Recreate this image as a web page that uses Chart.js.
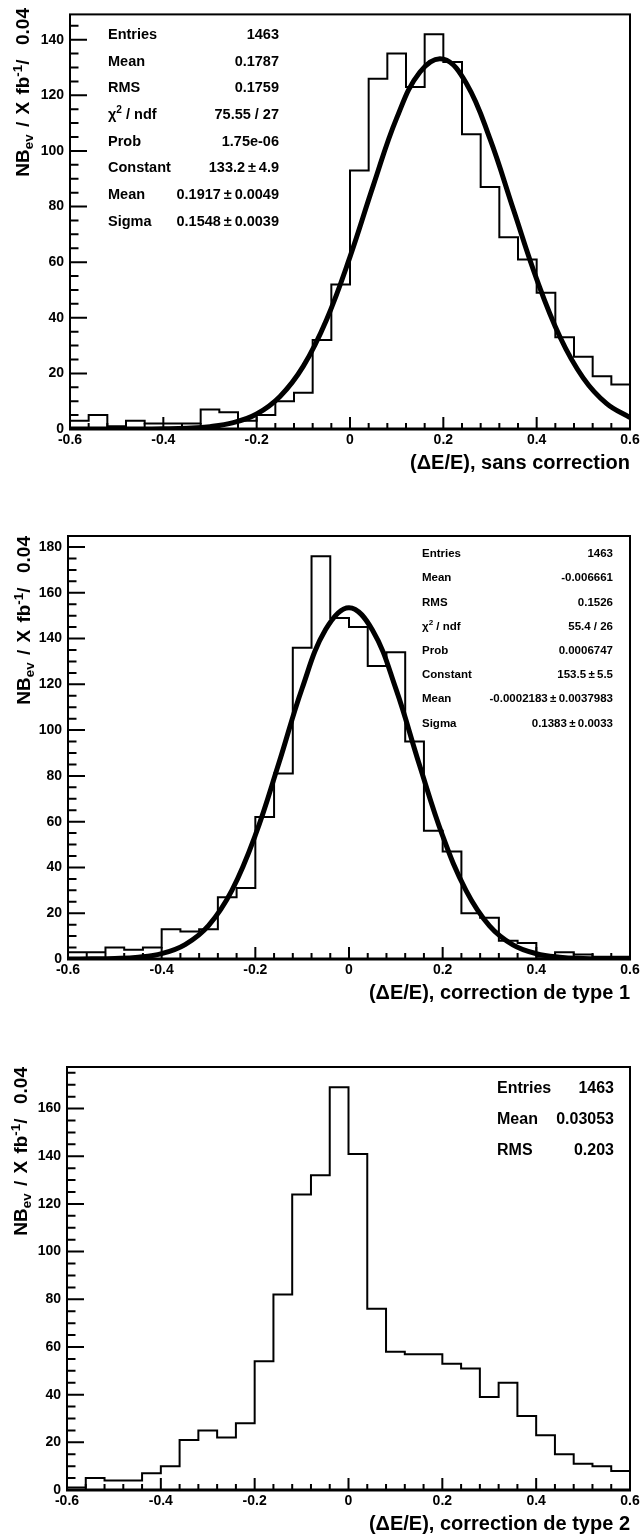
<!DOCTYPE html>
<html>
<head>
<meta charset="utf-8">
<script src="https://cdn.jsdelivr.net/npm/chart.js@4.4.0/dist/chart.umd.min.js"></script>
<style>
  html, body { margin: 0; padding: 0; background: #fff; }
  body { width: 640px; height: 1537px; overflow: hidden; position: relative;
         font-family: "Liberation Sans", Arial, Helvetica, sans-serif; font-weight: bold; color: #000; }
  canvas { position: absolute; left: 0; }
  .ytitle { position: absolute; white-space: nowrap; text-align: right; font-size: 19px; line-height: 19px;
            transform-origin: 0 0; transform: rotate(-90deg); word-spacing: 2px; }
  .ytitle sub, .ytitle sup, .stats sup { font-size: 0.7em; line-height: 0; position: relative; vertical-align: baseline; }
  .ytitle sup, .stats sup { top: -0.55em; }
  .ytitle sub { top: 0.3em; }
  .stats { position: absolute; }
  .stats .row { display: flex; justify-content: space-between; white-space: nowrap; }
</style>
</head>
<body>
<canvas id="h1"></canvas>
<canvas id="h2"></canvas>
<canvas id="h3"></canvas>
<script>
// bords bas des bins (largeur 0.04)
var binLow = [-0.6, -0.56, -0.52, -0.48, -0.44, -0.4, -0.36, -0.32, -0.28, -0.24, -0.2, -0.16, -0.12, -0.08, -0.04,
              0, 0.04, 0.08, 0.12, 0.16, 0.2, 0.24, 0.28, 0.32, 0.36, 0.4, 0.44, 0.48, 0.52, 0.56];
var xMin = -0.6;
var xMax = 0.6;

// sans correction
var counts1 = [3, 5, 1, 3, 2, 2, 2, 7, 6, 3, 5, 10, 13, 32, 52, 93, 126, 135, 123, 142, 132, 106, 87, 69, 61, 49, 33, 26, 19, 16];
// correction de type 1
var counts2 = [3, 3, 5, 4, 5, 13, 12, 13, 27, 31, 62, 81, 136, 176, 149, 145, 128, 134, 95, 56, 47, 20, 18, 8, 7, 1, 3, 2, 1, 1];
// correction de type 2
var counts3 = [1, 5, 4, 4, 7, 10, 21, 25, 22, 28, 54, 82, 124, 132, 169, 141, 76, 58, 57, 57, 53, 51, 39, 45, 31, 23, 15, 11, 10, 8];

// courbes d'ajustement
var fitX = [-0.6, -0.55, -0.5, -0.45, -0.4, -0.35, -0.3, -0.25, -0.2, -0.15, -0.1, -0.05, 0,
            0.05, 0.1, 0.15, 0.2, 0.25, 0.3, 0.35, 0.4, 0.45, 0.5, 0.55, 0.6];
var fit1 = [0, 0, 0.01, 0.02, 0.09, 0.29, 0.86, 2.3, 5.4, 11.7, 22.6, 39.4, 61.9,
            87.6, 111.8, 128.4, 133.0, 124.1, 104.3, 79.0, 53.9, 33.1, 18.3, 9.1, 4.1];
var fit2 = [0.01, 0.06, 0.22, 0.78, 2.35, 6.3, 14.6, 30.0, 54.1, 85.4, 118.3, 143.9, 153.5,
            143.7, 118.1, 85.1, 53.8, 29.9, 14.5, 6.2, 2.33, 0.77, 0.22, 0.06, 0.01];

var yMax = [149.1, 184.8, 177.45];
var xTitles = ["(\u0394E/E), sans correction", "(\u0394E/E), correction de type 1", "(\u0394E/E), correction de type 2"];
var yTitle = "NB<sub>ev</sub> / X fb<sup>-1</sup>/&nbsp; 0.04";

var statsNames1 = ["Entries", "Mean", "RMS", "\u03c7<sup>2</sup> / ndf", "Prob", "Constant", "Mean", "Sigma"];
var statsVals1 = ["1463", "0.1787", "0.1759", "75.55 / 27", "1.75e-06", "133.2\u2009\u00b1\u20094.9", "0.1917\u2009\u00b1\u20090.0049", "0.1548\u2009\u00b1\u20090.0039"];
var statsNames2 = ["Entries", "Mean", "RMS", "\u03c7<sup>2</sup> / ndf", "Prob", "Constant", "Mean", "Sigma"];
var statsVals2 = ["1463", "-0.006661", "0.1526", "55.4 / 26", "0.0006747", "153.5\u2009\u00b1\u20095.5", "-0.0002183\u2009\u00b1\u20090.0037983", "0.1383\u2009\u00b1\u20090.0033"];
var statsNames3 = ["Entries", "Mean", "RMS"];
var statsVals3 = ["1463", "0.03053", "0.203"];

// mise en page des 3 pads
var pads = [
  { top: 0,    height: 475, padTop: 8,  axisW: 70, titleLeft: 13,   stats: { left: 108, right: 279, top: 34.3,   gap: 26.7, size: 14.5 } },
  { top: 500,  height: 505, padTop: 36, axisW: 68, titleLeft: 14,   stats: { left: 422, right: 613, top: 553.3,  gap: 24.2, size: 11.5 } },
  { top: 1031, height: 505, padTop: 36, axisW: 67, titleLeft: 10.5, stats: { left: 497, right: 614, top: 1087.7, gap: 31,   size: 16 } }
];
var xAxisH = 46;
var fontFam = '"Liberation Sans", Arial, Helvetica, sans-serif';

// cadre + graduations vers l'interieur, style ROOT
var rootFrame = {
  id: "rootFrame",
  afterDatasetsDraw: function (chart) {
    var ctx = chart.ctx;
    var a = chart.chartArea;
    var x = chart.scales.x;
    var y = chart.scales.y;
    ctx.save();
    ctx.strokeStyle = "#000";
    ctx.lineWidth = 2;
    ctx.strokeRect(a.left, a.top, a.right - a.left, a.bottom - a.top);
    ctx.beginPath();
    for (var i = 0; i * 5 <= y.max; i++) {
      var py = y.getPixelForValue(i * 5);
      var len = i % 4 === 0 ? 17 : 8.5;
      ctx.moveTo(a.left, py);
      ctx.lineTo(a.left + len, py);
    }
    for (var j = 0; j <= 30; j++) {
      var px = x.getPixelForValue(xMin + j * 0.04);
      var l = j % 5 === 0 ? 12 : 6;
      ctx.moveTo(px, a.bottom);
      ctx.lineTo(px, a.bottom - l);
    }
    ctx.stroke();
    ctx.lineWidth = 3;
    ctx.beginPath();
    ctx.moveTo(a.left - 1, a.bottom);
    ctx.lineTo(a.right + 1, a.bottom);
    ctx.stroke();
    ctx.restore();
  }
};

function histoPoints(counts) {
  var pts = binLow.map(function (b, i) { return { x: b, y: counts[i] }; });
  pts.push({ x: xMax, y: counts[counts.length - 1] });
  return pts;
}

function fitPoints(vals) {
  return fitX.map(function (v, i) { return { x: v, y: vals[i] }; });
}

function dibujaPad(n, counts, fit) {
  var p = pads[n];
  var canvas = document.getElementById("h" + (n + 1));
  canvas.width = 690;
  canvas.height = p.height;
  canvas.style.top = p.top + "px";

  var datasets = [];
  if (fit) {
    datasets.push({
      data: fitPoints(fit),
      borderColor: "#000",
      borderWidth: 5,
      pointRadius: 0,
      tension: 0.4,
      fill: false
    });
  }
  datasets.push({
    data: histoPoints(counts),
    borderColor: "#000",
    borderWidth: 2,
    pointRadius: 0,
    stepped: "before",
    fill: false
  });

  new Chart(canvas, {
    type: "line",
    data: { datasets: datasets },
    options: {
      responsive: false,
      animation: false,
      events: [],
      layout: { padding: { top: p.padTop, right: 60, bottom: 0, left: 0 } },
      plugins: { legend: { display: false }, tooltip: { enabled: false } },
      scales: {
        x: {
          type: "linear",
          min: xMin,
          max: xMax,
          grid: { display: false, drawTicks: false },
          border: { display: false },
          ticks: {
            stepSize: 0.2,
            autoSkip: false,
            maxRotation: 0,
            padding: 3,
            color: "#000",
            font: { family: fontFam, size: 14, weight: "bold" },
            callback: function (v) { return Math.abs(v) < 1e-9 ? "0" : String(Number(v.toFixed(2))); }
          },
          title: {
            display: true,
            text: xTitles[n],
            align: "end",
            color: "#000",
            padding: { top: 0, bottom: 0 },
            font: { family: fontFam, size: 20, weight: "bold" }
          },
          afterFit: function (scale) { scale.height = xAxisH; }
        },
        y: {
          min: 0,
          max: yMax[n],
          grid: { display: false, drawTicks: false },
          border: { display: false },
          ticks: {
            stepSize: 20,
            includeBounds: false,
            padding: 6,
            color: "#000",
            font: { family: fontFam, size: 14, weight: "bold" }
          },
          afterFit: function (scale) { scale.width = p.axisW; }
        }
      }
    },
    plugins: [rootFrame]
  });

  // titre de l'axe Y
  var plotH = p.height - p.padTop - xAxisH;
  var t = document.createElement("div");
  t.className = "ytitle";
  t.innerHTML = yTitle;
  t.style.left = p.titleLeft + "px";
  t.style.top = (p.top + p.padTop + plotH) + "px";
  t.style.width = plotH + "px";
  document.body.appendChild(t);
}

function statsBox(n, names, vals) {
  var s = pads[n].stats;
  var box = document.createElement("div");
  box.className = "stats";
  box.style.left = s.left + "px";
  box.style.top = (s.top - s.gap / 2) + "px";
  box.style.width = (s.right - s.left) + "px";
  box.style.fontSize = s.size + "px";
  box.style.lineHeight = s.gap + "px";
  var html = "";
  names.forEach(function (nm, i) {
    html += '<div class="row"><span>' + nm + "</span><span>" + vals[i] + "</span></div>";
  });
  box.innerHTML = html;
  document.body.appendChild(box);
}

dibujaPad(0, counts1, fit1);
dibujaPad(1, counts2, fit2);
dibujaPad(2, counts3, null);
statsBox(0, statsNames1, statsVals1);
statsBox(1, statsNames2, statsVals2);
statsBox(2, statsNames3, statsVals3);
</script>
</body>
</html>
